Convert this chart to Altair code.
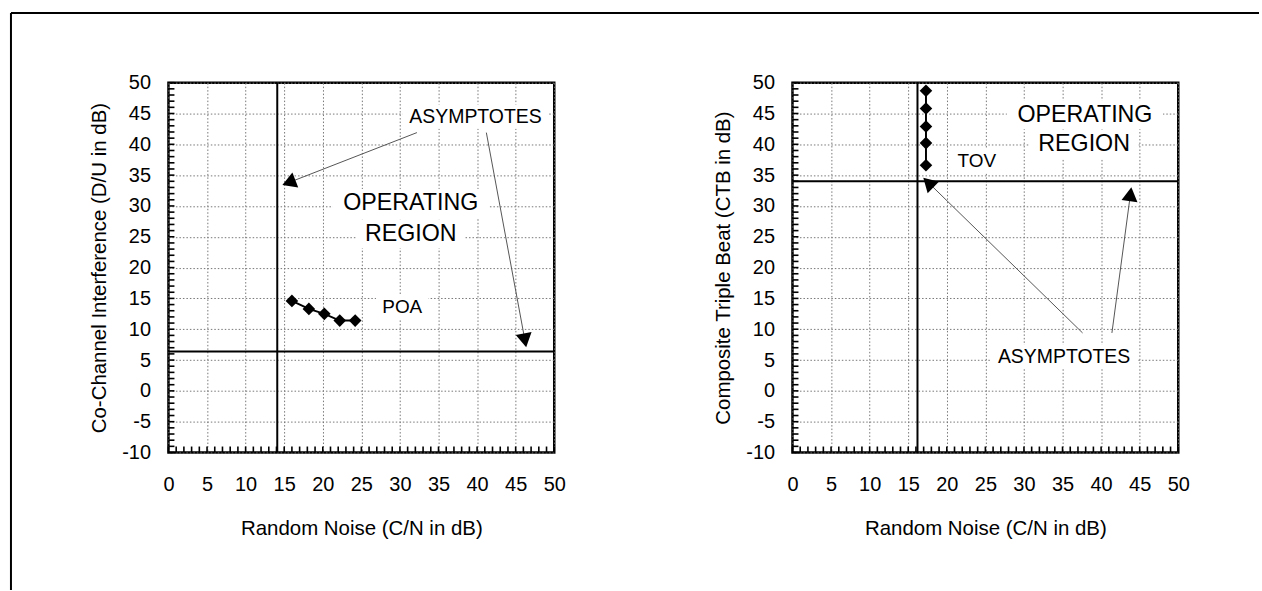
import math
import altair as alt
import pandas as pd

# ---------------- data ----------------
x_tick_labels = list(range(0, 51, 5))
y_tick_labels = list(range(-10, 51, 5))
x_minor = list(range(0, 51))
y_minor = list(range(-10, 51))

x_title = "Random Noise (C/N in dB)"
left_y_title = "Co-Channel Interference (D/U in dB)"
right_y_title = "Composite Triple Beat (CTB in dB)"

# Left panel: POA
poa_x = [16.0, 18.2, 20.2, 22.2, 24.2]
poa_y = [14.6, 13.3, 12.5, 11.4, 11.4]
left_vert_asym = [14.1]
left_horiz_asym = [6.4]
left_texts = ["ASYMPTOTES", "OPERATING", "REGION", "POA"]
left_text_x = [39.8, 31.4, 31.4, 30.3]
left_text_y = [44.5, 30.4, 25.5, 13.6]
left_arrow_x1 = [32.2, 41.2]
left_arrow_y1 = [41.9, 41.9]
left_arrow_x2 = [15.6, 46.2]
left_arrow_y2 = [33.8, 8.2]

# Right panel: TOV
tov_x = [17.3, 17.3, 17.3, 17.3, 17.3]
tov_y = [48.7, 45.8, 42.9, 40.2, 36.6]
right_vert_asym = [16.2]
right_horiz_asym = [34.0]
right_texts = ["OPERATING", "REGION", "TOV", "ASYMPTOTES"]
right_text_x = [37.9, 37.8, 23.9, 35.2]
right_text_y = [44.8, 40.0, 37.3, 5.5]
right_arrow_x1 = [37.6, 41.4]
right_arrow_y1 = [9.4, 9.4]
right_arrow_x2 = [17.6, 43.8]
right_arrow_y2 = [33.8, 31.9]

# ---------------- layout / style ----------------
W, H = 387, 371
FONT = "Liberation Sans"
XDOM = [0, 50]
YDOM = [-10, 50]
PXX = W / (XDOM[1] - XDOM[0])
PXY = H / (YDOM[1] - YDOM[0])
FS = {"ASYMPTOTES": 19.5, "OPERATING": 23.3, "REGION": 23.3, "POA": 19, "TOV": 19}


def panel(sx, sy, vx, hy, texts, tx, ty, ax1, ay1, ax2, ay2, ytitle, border=False):
    xs = alt.Scale(domain=XDOM, nice=False, zero=False)
    ys = alt.Scale(domain=YDOM, nice=False, zero=False)
    xaxis = alt.Axis(values=x_tick_labels, title=x_title, grid=True,
                     labelExpr="'' + datum.value", labelFlush=False,
                     tickSize=0, labelPadding=22, titlePadding=24)
    yaxis = alt.Axis(values=y_tick_labels, title=ytitle, grid=True,
                     labelExpr="'' + datum.value", labelFlush=False,
                     tickSize=0, labelPadding=18, titlePadding=12)

    def X(f="x"):
        return alt.X(f + ":Q", scale=xs, axis=xaxis)

    def Y(f="y"):
        return alt.Y(f + ":Q", scale=ys, axis=yaxis)

    xt = alt.Chart(pd.DataFrame({"x": x_minor})).mark_rule(
        color="black", strokeWidth=1.6).encode(
        x=X(), y=alt.value(H), y2=alt.value(H - 6))
    yt = alt.Chart(pd.DataFrame({"y": y_minor})).mark_rule(
        color="black", strokeWidth=1.6).encode(
        y=Y(), x=alt.value(0), x2=alt.value(6))

    vrule = alt.Chart(pd.DataFrame({"x": vx})).mark_rule(
        color="black", strokeWidth=2).encode(x=X())
    hrule = alt.Chart(pd.DataFrame({"y": hy})).mark_rule(
        color="black", strokeWidth=2).encode(y=Y())

    sdf = pd.DataFrame({"x": sx, "y": sy, "o": list(range(len(sx)))})
    sline = alt.Chart(sdf).mark_line(color="black", strokeWidth=2).encode(
        x=X(), y=Y(), order="o:Q")
    spts = alt.Chart(sdf).mark_point(shape="diamond", filled=True, color="black",
                                     size=160, opacity=1).encode(x=X(), y=Y())

    adf = pd.DataFrame({"x": ax1, "y": ay1, "x2": ax2, "y2": ay2})
    adf["ang"] = [
        (math.degrees(math.atan2((b - a) * PXX, (d - c) * PXY)) + 360) % 360
        for a, b, c, d in zip(ax1, ax2, ay1, ay2)
    ]
    aline = alt.Chart(adf).mark_rule(color="#555555", strokeWidth=1).encode(
        x=X(), y=Y(), x2="x2:Q", y2="y2:Q")
    ahead = alt.Chart(adf).mark_point(shape="triangle-up", filled=True, color="black",
                                      size=260, opacity=1).encode(
        x=X("x2"), y=Y("y2"), angle=alt.Angle("ang:Q", scale=None))

    tdf = pd.DataFrame({"x": tx, "y": ty, "t": texts})
    tdf["fs"] = [FS[t] for t in texts]
    bw = [len(t) * 0.68 * FS[t] + 14 for t in texts]
    bh = [FS[t] * 1.25 for t in texts]
    tdf["bsize"] = [w * w for w in bw]
    tdf["bpath"] = ["M-1,-%.4fH1V%.4fH-1Z" % (h / w, h / w) for w, h in zip(bw, bh)]
    tbox = alt.Chart(tdf).mark_point(filled=True, color="white", opacity=1,
                                     strokeWidth=0).encode(
        x=X(), y=Y(), shape=alt.Shape("bpath:N", scale=None),
        size=alt.Size("bsize:Q", scale=None))
    txt = alt.Chart(tdf).mark_text(font=FONT, color="black", align="center",
                                   baseline="middle").encode(
        x=X(), y=Y(), text="t:N", size=alt.Size("fs:Q", scale=None))

    layers = [xt, yt, tbox, vrule, hrule, aline, ahead, sline, spts, txt]
    if border:
        one = pd.DataFrame({"k": [0]})
        b1 = alt.Chart(one).mark_rule(color="black", strokeWidth=2).encode(
            x=alt.value(-158), y=alt.value(-70), y2=alt.value(591 - 82))
        b2 = alt.Chart(one).mark_rule(color="black", strokeWidth=2).encode(
            x=alt.value(-158), x2=alt.value(1262 - 168), y=alt.value(-70))
        layers = [b1, b2] + layers
    return alt.layer(*layers).properties(width=W, height=H)


left = panel(poa_x, poa_y, left_vert_asym, left_horiz_asym, left_texts, left_text_x,
             left_text_y, left_arrow_x1, left_arrow_y1, left_arrow_x2, left_arrow_y2,
             left_y_title, border=True)
right = panel(tov_x, tov_y, right_vert_asym, right_horiz_asym, right_texts, right_text_x,
              right_text_y, right_arrow_x1, right_arrow_y1, right_arrow_x2, right_arrow_y2,
              right_y_title)

chart = alt.hconcat(left, right, spacing=239, bounds="flush").properties(
    padding={"left": 8, "top": 9, "right": 0, "bottom": 0},
    background="white",
).configure_view(stroke="black", strokeWidth=2.5).configure_axis(
    labelFont=FONT, titleFont=FONT, labelFontSize=20, titleFontSize=20.5,
    titleFontWeight="normal", labelColor="black", titleColor="black",
    domain=False, ticks=False, gridColor="#777777", gridDash=[1.5, 2],
    gridWidth=1, gridOpacity=1, labelOverlap=False,
)

chart.save("out.html", embed_options={"renderer": "svg", "actions": False})
